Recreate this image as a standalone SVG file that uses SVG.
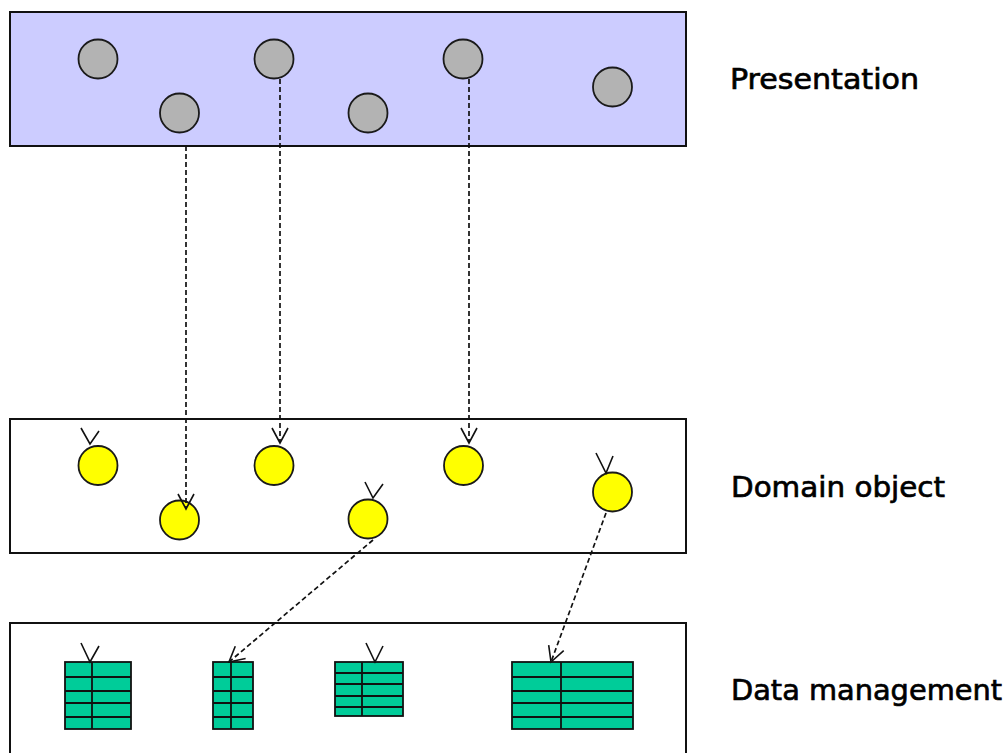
<svg xmlns="http://www.w3.org/2000/svg" width="1008" height="753" viewBox="0 0 1008 753">
  <style>
    .layer { stroke: #111; stroke-width: 2; }
    .pres { fill: #CCCCFF; }
    .plain { fill: #FFFFFF; }
    .ui { fill: #B3B3B3; stroke: #1a1a1a; stroke-width: 1.8; }
    .obj { fill: #FFFF00; stroke: #1a1a1a; stroke-width: 1.8; }
    .tbl { fill: #00CC99; stroke: #111; stroke-width: 1.8; }
    .grid { stroke: #111; stroke-width: 1.8; fill: none; }
    .tip { fill: none; stroke: #111; stroke-width: 1.6; }
    .link { fill: none; stroke: #111; stroke-width: 1.7; stroke-dasharray: 5 3; }
    .label { font-family: "DejaVu Sans", "Liberation Sans", sans-serif; font-size: 29px; fill: #000; stroke: #000; stroke-width: 0.7; }
  </style>
  <defs>
    <marker id="open" markerWidth="20" markerHeight="20" viewBox="-17 -10 20 20" refX="0" refY="0" orient="auto" markerUnits="userSpaceOnUse">
      <path d="M-15,-8 L0,0 L-15,8" fill="none" stroke="#111" stroke-width="1.6"/>
    </marker>
  </defs>

  <rect width="1008" height="753" fill="#FFFFFF"/>

  <!-- layers -->
  <g id="layer-presentation">
    <rect class="layer pres" x="10" y="12" width="676" height="134"/>
    <text class="label" x="730" y="89" textLength="189" lengthAdjust="spacingAndGlyphs">Presentation</text>
  </g>
  <g id="layer-domain">
    <rect class="layer plain" x="10" y="419" width="676" height="134"/>
    <text class="label" x="731" y="497" textLength="214" lengthAdjust="spacingAndGlyphs">Domain object</text>
  </g>
  <g id="layer-data">
    <rect class="layer plain" x="10" y="623" width="676" height="150"/>
    <text class="label" x="731" y="700" textLength="271" lengthAdjust="spacingAndGlyphs">Data management</text>
  </g>

  <!-- presentation objects -->
  <g id="ui-1"><circle class="ui" cx="98" cy="59" r="19.5"/></g>
  <g id="ui-2"><circle class="ui" cx="179.5" cy="113" r="19.5"/></g>
  <g id="ui-3"><circle class="ui" cx="274" cy="59" r="19.5"/></g>
  <g id="ui-4"><circle class="ui" cx="368" cy="113" r="19.5"/></g>
  <g id="ui-5"><circle class="ui" cx="463" cy="59" r="19.5"/></g>
  <g id="ui-6"><circle class="ui" cx="612.5" cy="87" r="19.5"/></g>

  <!-- domain objects -->
  <g id="obj-1">
    <circle class="obj" cx="98" cy="465.5" r="19.5"/>
    <polyline class="tip" points="81,428 90,444 99,431"/>
  </g>
  <g id="obj-2"><circle class="obj" cx="179.5" cy="520" r="19.5"/></g>
  <g id="obj-3"><circle class="obj" cx="274" cy="465.5" r="19.5"/></g>
  <g id="obj-4">
    <circle class="obj" cx="368" cy="519" r="19.5"/>
    <polyline class="tip" points="365,482 373,498 383,484"/>
  </g>
  <g id="obj-5"><circle class="obj" cx="463.5" cy="465.5" r="19.5"/></g>
  <g id="obj-6">
    <circle class="obj" cx="612.5" cy="492" r="19.5"/>
    <polyline class="tip" points="596,453 606,473 613,456"/>
  </g>

  <!-- tables -->
  <g id="table-1">
    <rect class="tbl" x="65" y="662" width="66" height="67"/>
    <path class="grid" d="M92,662V729 M65,677H131 M65,691H131 M65,703H131 M65,717H131"/>
    <polyline class="tip" points="81,643 90,662 99,646"/>
  </g>
  <g id="table-2">
    <rect class="tbl" x="213" y="662" width="40" height="67"/>
    <path class="grid" d="M231,662V729 M213,677H253 M213,691H253 M213,703H253 M213,717H253"/>
  </g>
  <g id="table-3">
    <rect class="tbl" x="335" y="662" width="68" height="54"/>
    <path class="grid" d="M362,662V716 M335,673H403 M335,684H403 M335,696H403 M335,707H403"/>
    <polyline class="tip" points="366,643 375,662 383,646"/>
  </g>
  <g id="table-4">
    <rect class="tbl" x="512" y="662" width="121" height="67"/>
    <path class="grid" d="M561,662V729 M512,677H633 M512,691H633 M512,703H633 M512,717H633"/>
  </g>

  <!-- dependencies -->
  <g id="connectors">
    <line class="link" x1="186" y1="146" x2="186" y2="509" marker-end="url(#open)"/>
    <line class="link" x1="280" y1="79" x2="280" y2="443" marker-end="url(#open)"/>
    <line class="link" x1="469" y1="79" x2="469" y2="443" marker-end="url(#open)"/>
    <line class="link" x1="373" y1="540" x2="229" y2="662" marker-end="url(#open)"/>
    <line class="link" x1="606" y1="513" x2="551" y2="662" marker-end="url(#open)"/>
  </g>
</svg>
